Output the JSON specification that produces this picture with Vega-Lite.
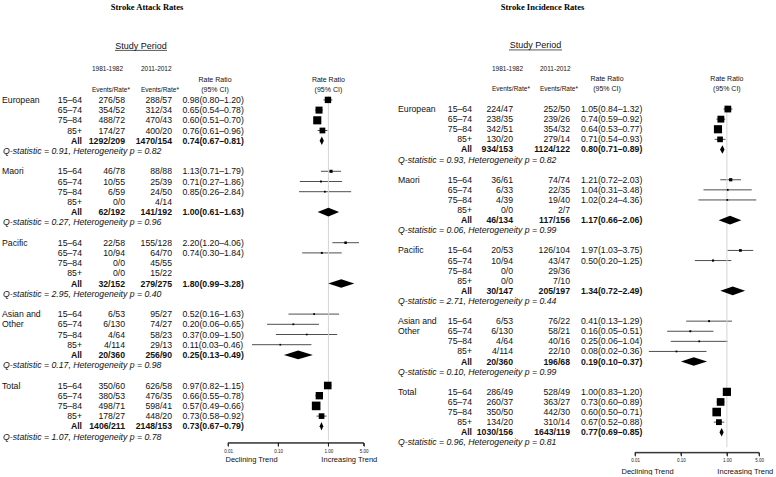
{
  "$schema": "https://vega.github.io/schema/vega-lite/v6.json",
  "padding": {"left": 0, "top": 3, "right": 0, "bottom": 0},
  "background": "white",
  "config": {"view": {"stroke": null}, "font": "Liberation Sans", "text": {"color": "#111"}},
  "spacing": 0,
  "resolve": {"scale": {"size": "independent", "shape": "independent"}},
  "datasets": {
    "attack": [
      {"id":"E1","grp":"European","age":"15–64","p1":"276/58","p2":"288/57","rr":"0.98(0.80–1.20)","est":0.98,"lo":0.80,"hi":1.20,"w":6.1},
      {"id":"E2","age":"65–74","p1":"354/52","p2":"312/34","rr":"0.65(0.54–0.78)","est":0.65,"lo":0.54,"hi":0.78,"w":7.4},
      {"id":"E3","age":"75–84","p1":"488/72","p2":"470/43","rr":"0.60(0.51–0.70)","est":0.60,"lo":0.51,"hi":0.70,"w":10.0},
      {"id":"E4","age":"85+","p1":"174/27","p2":"400/20","rr":"0.76(0.61–0.96)","est":0.76,"lo":0.61,"hi":0.96,"w":4.9},
      {"id":"EA","age":"All","p1":"1292/209","p2":"1470/154","rr":"0.74(0.67–0.81)","est":0.74,"lo":0.67,"hi":0.81},
      {"id":"EQ","q":"Q-statistic = 0.91, Heterogeneity p = 0.82"},
      {"id":"M1","grp":"Maori","age":"15–64","p1":"46/78","p2":"88/88","rr":"1.13(0.71–1.79)","est":1.13,"lo":0.71,"hi":1.79,"w":1.17},
      {"id":"M2","age":"65–74","p1":"10/55","p2":"25/39","rr":"0.71(0.27–1.86)","est":0.71,"lo":0.27,"hi":1.86,"w":0.27},
      {"id":"M3","age":"75–84","p1":"6/59","p2":"24/50","rr":"0.85(0.26–2.84)","est":0.85,"lo":0.26,"hi":2.84,"w":0.18},
      {"id":"M4","age":"85+","p1":"0/0","p2":"4/14"},
      {"id":"MA","age":"All","p1":"62/192","p2":"141/192","rr":"1.00(0.61–1.63)","est":1.00,"lo":0.61,"hi":1.63},
      {"id":"MQ","q":"Q-statistic = 0.27, Heterogeneity p = 0.96"},
      {"id":"P1","grp":"Pacific","age":"15–64","p1":"22/58","p2":"155/128","rr":"2.20(1.20–4.06)","est":2.20,"lo":1.20,"hi":4.06,"w":0.67},
      {"id":"P2","age":"65–74","p1":"10/94","p2":"64/70","rr":"0.74(0.30–1.84)","est":0.74,"lo":0.30,"hi":1.84,"w":0.30},
      {"id":"P3","age":"75–84","p1":"0/0","p2":"45/55"},
      {"id":"P4","age":"85+","p1":"0/0","p2":"15/22"},
      {"id":"PA","age":"All","p1":"32/152","p2":"279/275","rr":"1.80(0.99–3.28)","est":1.80,"lo":0.99,"hi":3.28},
      {"id":"PQ","q":"Q-statistic = 2.95, Heterogeneity p = 0.40"},
      {"id":"A1","grp":"Asian and","age":"15–64","p1":"6/53","p2":"95/27","rr":"0.52(0.16–1.63)","est":0.52,"lo":0.16,"hi":1.63,"w":0.19},
      {"id":"A2","grp":"Other","age":"65–74","p1":"6/130","p2":"74/27","rr":"0.20(0.06–0.65)","est":0.20,"lo":0.06,"hi":0.65,"w":0.18},
      {"id":"A3","age":"75–84","p1":"4/64","p2":"58/23","rr":"0.37(0.09–1.50)","est":0.37,"lo":0.09,"hi":1.50,"w":0.13},
      {"id":"A4","age":"85+","p1":"4/114","p2":"29/13","rr":"0.11(0.03–0.46)","est":0.11,"lo":0.03,"hi":0.46,"w":0.13},
      {"id":"AA","age":"All","p1":"20/360","p2":"256/90","rr":"0.25(0.13–0.49)","est":0.25,"lo":0.13,"hi":0.49},
      {"id":"AQ","q":"Q-statistic = 0.17, Heterogeneity p = 0.98"},
      {"id":"T1","grp":"Total","age":"15–64","p1":"350/60","p2":"626/58","rr":"0.97(0.82–1.15)","est":0.97,"lo":0.82,"hi":1.15,"w":8.75},
      {"id":"T2","age":"65–74","p1":"380/53","p2":"476/35","rr":"0.66(0.55–0.78)","est":0.66,"lo":0.55,"hi":0.78,"w":8.2},
      {"id":"T3","age":"75–84","p1":"498/71","p2":"598/41","rr":"0.57(0.49–0.66)","est":0.57,"lo":0.49,"hi":0.66,"w":11.3},
      {"id":"T4","age":"85+","p1":"178/27","p2":"448/20","rr":"0.73(0.58–0.92)","est":0.73,"lo":0.58,"hi":0.92,"w":4.7},
      {"id":"TA","age":"All","p1":"1406/211","p2":"2148/153","rr":"0.73(0.67–0.79)","est":0.73,"lo":0.67,"hi":0.79},
      {"id":"TQ","q":"Q-statistic = 1.07, Heterogeneity p = 0.78"}
    ],
    "incidence": [
      {"id":"E1","grp":"European","age":"15–64","p1":"224/47","p2":"252/50","rr":"1.05(0.84–1.32)","est":1.05,"lo":0.84,"hi":1.32,"w":4.9},
      {"id":"E2","age":"65–74","p1":"238/35","p2":"239/26","rr":"0.74(0.59–0.92)","est":0.74,"lo":0.59,"hi":0.92,"w":5.07},
      {"id":"E3","age":"75–84","p1":"342/51","p2":"354/32","rr":"0.64(0.53–0.77)","est":0.64,"lo":0.53,"hi":0.77,"w":7.2},
      {"id":"E4","age":"85+","p1":"130/20","p2":"279/14","rr":"0.71(0.54–0.93)","est":0.71,"lo":0.54,"hi":0.93,"w":3.4},
      {"id":"EA","age":"All","p1":"934/153","p2":"1124/122","rr":"0.80(0.71–0.89)","est":0.80,"lo":0.71,"hi":0.89},
      {"id":"EQ","q":"Q-statistic  = 0.93, Heterogeneity p = 0.82"},
      {"id":"M1","grp":"Maori","age":"15–64","p1":"36/61","p2":"74/74","rr":"1.21(0.72–2.03)","est":1.21,"lo":0.72,"hi":2.03,"w":0.93},
      {"id":"M2","age":"65–74","p1":"6/33","p2":"22/35","rr":"1.04(0.31–3.48)","est":1.04,"lo":0.31,"hi":3.48,"w":0.17},
      {"id":"M3","age":"75–84","p1":"4/39","p2":"19/40","rr":"1.02(0.24–4.36)","est":1.02,"lo":0.24,"hi":4.36,"w":0.12},
      {"id":"M4","age":"85+","p1":"0/0","p2":"2/7"},
      {"id":"MA","age":"All","p1":"46/134","p2":"117/156","rr":"1.17(0.66–2.06)","est":1.17,"lo":0.66,"hi":2.06},
      {"id":"MQ","q":"Q-statistic = 0.06, Heterogeneity p = 0.99"},
      {"id":"P1","grp":"Pacific","age":"15–64","p1":"20/53","p2":"126/104","rr":"1.97(1.03–3.75)","est":1.97,"lo":1.03,"hi":3.75,"w":0.60},
      {"id":"P2","age":"65–74","p1":"10/94","p2":"43/47","rr":"0.50(0.20–1.25)","est":0.50,"lo":0.20,"hi":1.25,"w":0.30},
      {"id":"P3","age":"75–84","p1":"0/0","p2":"29/36"},
      {"id":"P4","age":"85+","p1":"0/0","p2":"7/10"},
      {"id":"PA","age":"All","p1":"30/147","p2":"205/197","rr":"1.34(0.72–2.49)","est":1.34,"lo":0.72,"hi":2.49},
      {"id":"PQ","q":"Q-statistic = 2.71, Heterogeneity p = 0.44"},
      {"id":"A1","grp":"Asian and","age":"15–64","p1":"6/53","p2":"76/22","rr":"0.41(0.13–1.29)","est":0.41,"lo":0.13,"hi":1.29,"w":0.19},
      {"id":"A2","grp":"Other","age":"65–74","p1":"6/130","p2":"58/21","rr":"0.16(0.05–0.51)","est":0.16,"lo":0.05,"hi":0.51,"w":0.19},
      {"id":"A3","age":"75–84","p1":"4/64","p2":"40/16","rr":"0.25(0.06–1.04)","est":0.25,"lo":0.06,"hi":1.04,"w":0.12},
      {"id":"A4","age":"85+","p1":"4/114","p2":"22/10","rr":"0.08(0.02–0.36)","est":0.08,"lo":0.02,"hi":0.36,"w":0.12},
      {"id":"AA","age":"All","p1":"20/360","p2":"196/68","rr":"0.19(0.10–0.37)","est":0.19,"lo":0.10,"hi":0.37},
      {"id":"AQ","q":"Q-statistic = 0.10, Heterogeneity p = 0.99"},
      {"id":"T1","grp":"Total","age":"15–64","p1":"286/49","p2":"528/49","rr":"1.00(0.83–1.20)","est":1.00,"lo":0.83,"hi":1.20,"w":7.3},
      {"id":"T2","age":"65–74","p1":"260/37","p2":"363/27","rr":"0.73(0.60–0.89)","est":0.73,"lo":0.60,"hi":0.89,"w":6.4},
      {"id":"T3","age":"75–84","p1":"350/50","p2":"442/30","rr":"0.60(0.50–0.71)","est":0.60,"lo":0.50,"hi":0.71,"w":8.1},
      {"id":"T4","age":"85+","p1":"134/20","p2":"310/14","rr":"0.67(0.52–0.88)","est":0.67,"lo":0.52,"hi":0.88,"w":3.6},
      {"id":"TA","age":"All","p1":"1030/156","p2":"1643/119","rr":"0.77(0.69–0.85)","est":0.77,"lo":0.69,"hi":0.85},
      {"id":"TQ","q":"Q-statistic = 0.96, Heterogeneity p = 0.81"}
    ]
  },
  "hconcat": [
    {
      "width": 388,
      "height": {"step": 10.2},
      "data": {"name": "attack"},
      "encoding": {"y": {"field": "id", "type": "nominal", "axis": null,
        "scale": {"type": "point", "padding": 0.5, "domain": ["tt","x1","x2","x3","sp","x4","h1","h2","h3","E1","E2","E3","E4","EA","EQ","s1","M1","M2","M3","M4","MA","MQ","s2","P1","P2","P3","P4","PA","PQ","s3","A1","A2","A3","A4","AA","AQ","s4","T1","T2","T3","T4","TA","TQ"]}}},
      "resolve": {"scale": {"x": "independent"}, "axis": {"x": "independent"}},
      "layer": [
        {"layer": [
          {"transform": [{"filter": "isValid(datum.lo) && datum.age !== 'All'"}],
           "mark": {"type": "rule", "color": "#222", "strokeWidth": 0.8},
           "encoding": {"x": {"field": "lo", "type": "quantitative", "scale": {"type": "log", "domain": [0.01, 5], "range": [228, 363.5], "nice": false},
               "axis": {"values": [0.01, 0.1, 1, 5], "format": ".2f", "labelFontSize": 4.5, "labelFlush": false, "labelOverlap": false, "labelPadding": 2, "tickSize": 3.5, "tickWidth": 0.8, "domainWidth": 0.8, "domainColor": "#111", "tickColor": "#111", "labelColor": "#222", "grid": false, "offset": 1, "orient": "bottom",
                 "title": "Declining Trend\u00a0\u00a0\u00a0\u00a0\u00a0\u00a0\u00a0\u00a0\u00a0\u00a0\u00a0\u00a0\u00a0\u00a0\u00a0\u00a0\u00a0\u00a0\u00a0\u00a0\u00a0Increasing Trend",
                 "titleFontSize": 7.5, "titleFontWeight": "normal", "titleColor": "#111", "titlePadding": 3, "titleX": 225, "titleAlign": "left", "titleAnchor": "start"}},
             "x2": {"field": "hi"}}},
          {"data": {"values": [{}]},
           "mark": {"type": "rule", "color": "#111", "strokeWidth": 0.8, "yOffset": 6.3},
           "encoding": {"x": {"datum": 0.01, "type": "quantitative", "scale": {"type": "log", "domain": [0.01, 5], "range": [228, 363.5], "nice": false}}, "x2": {"datum": 5}, "y": {"datum": "TQ"}}},
          {"data": {"values": [{"v": 0.01}, {"v": 0.1}, {"v": 1}, {"v": 5}]},
           "mark": {"type": "rule", "color": "#111", "strokeWidth": 0.8, "yOffset": 6.3, "y2Offset": 9.6},
           "encoding": {"x": {"field": "v", "type": "quantitative", "scale": {"type": "log", "domain": [0.01, 5], "range": [228, 363.5], "nice": false}}, "y": {"datum": "TQ"}, "y2": {"datum": "TQ"}}},
          {"data": {"values": [{}]},
           "mark": {"type": "rule", "color": "#d4d4d4", "strokeWidth": 1, "yOffset": 6, "y2Offset": 4},
           "encoding": {
             "x": {"datum": 1, "type": "quantitative", "scale": {"type": "log", "domain": [0.01, 5], "range": [228, 363.5], "nice": false}},
             "y": {"datum": "h3"}, "y2": {"datum": "TQ"}}},
          {"transform": [{"filter": "isValid(datum.lo) && datum.age !== 'All'"}],
           "mark": {"type": "point", "shape": "square", "filled": true, "opacity": 1, "color": "#000"},
           "encoding": {"x": {"field": "est", "type": "quantitative", "scale": {"type": "log", "domain": [0.01, 5], "range": [228, 363.5], "nice": false}},
             "size": {"field": "w", "type": "quantitative", "scale": {"type": "linear", "domain": [0, 11.3], "range": [2, 74]}, "legend": null}}},
          {"transform": [{"filter": "datum.age === 'All'"}],
           "mark": {"type": "point", "filled": true, "opacity": 1, "color": "#000", "size": 4},
           "encoding": {"x": {"field": "est", "type": "quantitative", "scale": {"type": "log", "domain": [0.01, 5], "range": [228, 363.5], "nice": false}},
             "shape": {"field": "id", "type": "nominal", "legend": null, "scale": {"domain": ["EA","MA","PA","AA","TA"], "range": ["M-2.2,0L0,-4.3L2,0L0,4.3Z", "M-10.8,0L0,-4.3L10.7,0L0,4.3Z", "M-13,0L0,-4.3L13.1,0L0,4.3Z", "M-14.3,0L0,-4.3L14.7,0L0,4.3Z", "M-1.9,0L0,-4.3L1.7,0L0,4.3Z"]}}}},
          {"data": {"values": [{"id": "h2", "t": "Rate Ratio"}, {"id": "h3", "t": "(95% CI)"}]},
           "mark": {"type": "text", "fontSize": 7, "align": "center"},
           "encoding": {"x": {"datum": 1, "type": "quantitative", "scale": {"type": "log", "domain": [0.01, 5], "range": [228, 363.5], "nice": false}}, "text": {"field": "t"}}}
        ]},
        {"layer": [
          {"data": {"values": [{"t": "Stroke Attack Rates"}]},
           "mark": {"type": "text", "font": "Liberation Serif", "fontWeight": "bold", "fontSize": 8.5, "align": "center", "color": "#000", "yOffset": -1},
           "encoding": {"x": {"datum": 147, "type": "quantitative", "scale": {"domain": [0, 388], "nice": false, "zero": false}, "axis": null}, "y": {"datum": "tt"}, "text": {"field": "t"}}},
          {"data": {"values": [{"t": "Study Period"}]},
           "mark": {"type": "text", "fontSize": 9, "align": "center", "yOffset": -3},
           "encoding": {"x": {"datum": 141, "type": "quantitative", "axis": null}, "y": {"datum": "sp"}, "text": {"field": "t"}}},
          {"data": {"values": [{}]},
           "mark": {"type": "rule", "strokeWidth": 0.7, "color": "#111", "yOffset": 1.5},
           "encoding": {"x": {"datum": 115, "type": "quantitative", "axis": null}, "x2": {"datum": 167}, "y": {"datum": "sp"}}},
          {"data": {"values": [{"id": "h1", "t": "1981-1982"}, {"id": "h3", "t": "Events/Rate*"}]},
           "mark": {"type": "text", "fontSize": 6.5, "align": "left"},
           "encoding": {"x": {"datum": 92, "type": "quantitative", "axis": null}, "text": {"field": "t"}}},
          {"data": {"values": [{"id": "h1", "t": "2011-2012"}, {"id": "h3", "t": "Events/Rate*"}]},
           "mark": {"type": "text", "fontSize": 6.5, "align": "left"},
           "encoding": {"x": {"datum": 141, "type": "quantitative", "axis": null}, "text": {"field": "t"}}},
          {"data": {"values": [{"id": "h2", "t": "Rate Ratio"}, {"id": "h3", "t": "(95% CI)"}]},
           "mark": {"type": "text", "fontSize": 7, "align": "center"},
           "encoding": {"x": {"datum": 215, "type": "quantitative", "axis": null}, "text": {"field": "t"}}},
          {"transform": [{"filter": "isValid(datum.grp)"}],
           "mark": {"type": "text", "fontSize": 8.7, "align": "left"},
           "encoding": {"x": {"datum": 2, "type": "quantitative", "axis": null}, "text": {"field": "grp"}}},
          {"transform": [{"filter": "isValid(datum.age) && datum.age !== 'All'"}],
           "mark": {"type": "text", "fontSize": 8.7, "align": "right"},
           "encoding": {"x": {"datum": 82, "type": "quantitative", "axis": null}, "text": {"field": "age"}}},
          {"transform": [{"filter": "isValid(datum.age) && datum.age !== 'All'"}],
           "mark": {"type": "text", "fontSize": 8.7, "align": "right"},
           "encoding": {"x": {"datum": 125, "type": "quantitative", "axis": null}, "text": {"field": "p1"}}},
          {"transform": [{"filter": "isValid(datum.age) && datum.age !== 'All'"}],
           "mark": {"type": "text", "fontSize": 8.7, "align": "right"},
           "encoding": {"x": {"datum": 172, "type": "quantitative", "axis": null}, "text": {"field": "p2"}}},
          {"transform": [{"filter": "isValid(datum.rr) && datum.age !== 'All'"}],
           "mark": {"type": "text", "fontSize": 8.7, "align": "left"},
           "encoding": {"x": {"datum": 182.5, "type": "quantitative", "axis": null}, "text": {"field": "rr"}}},
          {"transform": [{"filter": "datum.age === 'All'"}],
           "mark": {"type": "text", "fontSize": 8.7, "fontWeight": "bold", "align": "right"},
           "encoding": {"x": {"datum": 82, "type": "quantitative", "axis": null}, "text": {"field": "age"}}},
          {"transform": [{"filter": "datum.age === 'All'"}],
           "mark": {"type": "text", "fontSize": 8.7, "fontWeight": "bold", "align": "right"},
           "encoding": {"x": {"datum": 125, "type": "quantitative", "axis": null}, "text": {"field": "p1"}}},
          {"transform": [{"filter": "datum.age === 'All'"}],
           "mark": {"type": "text", "fontSize": 8.7, "fontWeight": "bold", "align": "right"},
           "encoding": {"x": {"datum": 172, "type": "quantitative", "axis": null}, "text": {"field": "p2"}}},
          {"transform": [{"filter": "datum.age === 'All'"}],
           "mark": {"type": "text", "fontSize": 8.7, "fontWeight": "bold", "align": "left"},
           "encoding": {"x": {"datum": 182.5, "type": "quantitative", "axis": null}, "text": {"field": "rr"}}},
          {"transform": [{"filter": "isValid(datum.q)"}],
           "mark": {"type": "text", "fontSize": 8.7, "fontStyle": "italic", "align": "left"},
           "encoding": {"x": {"datum": 3, "type": "quantitative", "axis": null}, "text": {"field": "q"}}}
        ]}
      ]
    },
    {
      "width": 388,
      "height": {"step": 10.1},
      "data": {"name": "incidence"},
      "encoding": {"y": {"field": "id", "type": "nominal", "axis": null,
        "scale": {"type": "point", "padding": 0.5, "domain": ["tt","x1","x2","x3","sp","x4","h1","h2","h3","x5","E1","E2","E3","E4","EA","EQ","s1","M1","M2","M3","M4","MA","MQ","s2","P1","P2","P3","P4","PA","PQ","s3","A1","A2","A3","A4","AA","AQ","s4","T1","T2","T3","T4","TA","TQ"]}}},
      "resolve": {"scale": {"x": "independent"}, "axis": {"x": "independent"}},
      "layer": [
        {"layer": [
          {"transform": [{"filter": "isValid(datum.lo) && datum.age !== 'All'"}],
           "mark": {"type": "rule", "color": "#222", "strokeWidth": 0.8},
           "encoding": {"x": {"field": "lo", "type": "quantitative", "scale": {"type": "log", "domain": [0.01, 5], "range": [247, 371], "nice": false},
               "axis": {"values": [0.01, 0.1, 1, 5], "format": ".2f", "labelFontSize": 4.5, "labelFlush": false, "labelOverlap": false, "labelPadding": 2, "tickSize": 3.5, "tickWidth": 0.8, "domainWidth": 0.8, "domainColor": "#111", "tickColor": "#111", "labelColor": "#222", "grid": false, "offset": 5, "orient": "bottom",
                 "title": "Declining Trend\u00a0\u00a0\u00a0\u00a0\u00a0\u00a0\u00a0\u00a0\u00a0\u00a0\u00a0\u00a0\u00a0\u00a0\u00a0\u00a0\u00a0\u00a0\u00a0\u00a0\u00a0Increasing Trend",
                 "titleFontSize": 7.5, "titleFontWeight": "normal", "titleColor": "#111", "titlePadding": 5, "titleX": 233, "titleAlign": "left", "titleAnchor": "start"}},
             "x2": {"field": "hi"}}},
          {"data": {"values": [{}]},
           "mark": {"type": "rule", "color": "#111", "strokeWidth": 0.8, "yOffset": 10},
           "encoding": {"x": {"datum": 0.01, "type": "quantitative", "scale": {"type": "log", "domain": [0.01, 5], "range": [247, 371], "nice": false}}, "x2": {"datum": 5}, "y": {"datum": "TQ"}}},
          {"data": {"values": [{"v": 0.01}, {"v": 0.1}, {"v": 1}, {"v": 5}]},
           "mark": {"type": "rule", "color": "#111", "strokeWidth": 0.8, "yOffset": 10, "y2Offset": 13.3},
           "encoding": {"x": {"field": "v", "type": "quantitative", "scale": {"type": "log", "domain": [0.01, 5], "range": [247, 371], "nice": false}}, "y": {"datum": "TQ"}, "y2": {"datum": "TQ"}}},
          {"data": {"values": [{}]},
           "mark": {"type": "rule", "color": "#d4d4d4", "strokeWidth": 1, "yOffset": 6, "y2Offset": 5},
           "encoding": {
             "x": {"datum": 1, "type": "quantitative", "scale": {"type": "log", "domain": [0.01, 5], "range": [247, 371], "nice": false}},
             "y": {"datum": "x5"}, "y2": {"datum": "TQ"}}},
          {"transform": [{"filter": "isValid(datum.lo) && datum.age !== 'All'"}],
           "mark": {"type": "point", "shape": "square", "filled": true, "opacity": 1, "color": "#000"},
           "encoding": {"x": {"field": "est", "type": "quantitative", "scale": {"type": "log", "domain": [0.01, 5], "range": [247, 371], "nice": false}},
             "size": {"field": "w", "type": "quantitative", "scale": {"type": "linear", "domain": [0, 8.1], "range": [2, 74]}, "legend": null}}},
          {"transform": [{"filter": "datum.age === 'All'"}],
           "mark": {"type": "point", "filled": true, "opacity": 1, "color": "#000", "size": 4},
           "encoding": {"x": {"field": "est", "type": "quantitative", "scale": {"type": "log", "domain": [0.01, 5], "range": [247, 371], "nice": false}},
             "shape": {"field": "id", "type": "nominal", "legend": null, "scale": {"domain": ["EA","MA","PA","AA","TA"], "range": ["M-2.4,0L0,-4.3L2.1,0L0,4.3Z", "M-11.4,0L0,-4.3L11.3,0L0,4.3Z", "M-12.4,0L0,-4.3L12.4,0L0,4.3Z", "M-12.8,0L0,-4.3L13.3,0L0,4.3Z", "M-2.2,0L0,-4.3L2,0L0,4.3Z"]}}}},
          {"data": {"values": [{"id": "h2", "t": "Rate Ratio"}, {"id": "h3", "t": "(95% CI)"}]},
           "mark": {"type": "text", "fontSize": 7, "align": "center"},
           "encoding": {"x": {"datum": 1, "type": "quantitative", "scale": {"type": "log", "domain": [0.01, 5], "range": [247, 371], "nice": false}}, "text": {"field": "t"}}}
        ]},
        {"layer": [
          {"data": {"values": [{"t": "Stroke Incidence Rates"}]},
           "mark": {"type": "text", "font": "Liberation Serif", "fontWeight": "bold", "fontSize": 8.5, "align": "center", "color": "#000", "yOffset": -1},
           "encoding": {"x": {"datum": 154.5, "type": "quantitative", "scale": {"domain": [0, 388], "nice": false, "zero": false}, "axis": null}, "y": {"datum": "tt"}, "text": {"field": "t"}}},
          {"data": {"values": [{"t": "Study Period"}]},
           "mark": {"type": "text", "fontSize": 9, "align": "center", "yOffset": -3},
           "encoding": {"x": {"datum": 147.5, "type": "quantitative", "axis": null}, "y": {"datum": "sp"}, "text": {"field": "t"}}},
          {"data": {"values": [{}]},
           "mark": {"type": "rule", "strokeWidth": 0.7, "color": "#111", "yOffset": 1.5},
           "encoding": {"x": {"datum": 121, "type": "quantitative", "axis": null}, "x2": {"datum": 174}, "y": {"datum": "sp"}}},
          {"data": {"values": [{"id": "h1", "t": "1981-1982"}, {"id": "h3", "t": "Events/Rate*"}]},
           "mark": {"type": "text", "fontSize": 6.5, "align": "left"},
           "encoding": {"x": {"datum": 104, "type": "quantitative", "axis": null}, "text": {"field": "t"}}},
          {"data": {"values": [{"id": "h1", "t": "2011-2012"}, {"id": "h3", "t": "Events/Rate*"}]},
           "mark": {"type": "text", "fontSize": 6.5, "align": "left"},
           "encoding": {"x": {"datum": 152, "type": "quantitative", "axis": null}, "text": {"field": "t"}}},
          {"data": {"values": [{"id": "h2", "t": "Rate Ratio"}, {"id": "h3", "t": "(95% CI)"}]},
           "mark": {"type": "text", "fontSize": 7, "align": "center"},
           "encoding": {"x": {"datum": 219, "type": "quantitative", "axis": null}, "text": {"field": "t"}}},
          {"transform": [{"filter": "isValid(datum.grp)"}],
           "mark": {"type": "text", "fontSize": 8.7, "align": "left"},
           "encoding": {"x": {"datum": 10, "type": "quantitative", "axis": null}, "text": {"field": "grp"}}},
          {"transform": [{"filter": "isValid(datum.age) && datum.age !== 'All'"}],
           "mark": {"type": "text", "fontSize": 8.7, "align": "right"},
           "encoding": {"x": {"datum": 84, "type": "quantitative", "axis": null}, "text": {"field": "age"}}},
          {"transform": [{"filter": "isValid(datum.age) && datum.age !== 'All'"}],
           "mark": {"type": "text", "fontSize": 8.7, "align": "right"},
           "encoding": {"x": {"datum": 125, "type": "quantitative", "axis": null}, "text": {"field": "p1"}}},
          {"transform": [{"filter": "isValid(datum.age) && datum.age !== 'All'"}],
           "mark": {"type": "text", "fontSize": 8.7, "align": "right"},
           "encoding": {"x": {"datum": 182, "type": "quantitative", "axis": null}, "text": {"field": "p2"}}},
          {"transform": [{"filter": "isValid(datum.rr) && datum.age !== 'All'"}],
           "mark": {"type": "text", "fontSize": 8.7, "align": "left"},
           "encoding": {"x": {"datum": 193, "type": "quantitative", "axis": null}, "text": {"field": "rr"}}},
          {"transform": [{"filter": "datum.age === 'All'"}],
           "mark": {"type": "text", "fontSize": 8.7, "fontWeight": "bold", "align": "right"},
           "encoding": {"x": {"datum": 84, "type": "quantitative", "axis": null}, "text": {"field": "age"}}},
          {"transform": [{"filter": "datum.age === 'All'"}],
           "mark": {"type": "text", "fontSize": 8.7, "fontWeight": "bold", "align": "right"},
           "encoding": {"x": {"datum": 125, "type": "quantitative", "axis": null}, "text": {"field": "p1"}}},
          {"transform": [{"filter": "datum.age === 'All'"}],
           "mark": {"type": "text", "fontSize": 8.7, "fontWeight": "bold", "align": "right"},
           "encoding": {"x": {"datum": 182, "type": "quantitative", "axis": null}, "text": {"field": "p2"}}},
          {"transform": [{"filter": "datum.age === 'All'"}],
           "mark": {"type": "text", "fontSize": 8.7, "fontWeight": "bold", "align": "left"},
           "encoding": {"x": {"datum": 193, "type": "quantitative", "axis": null}, "text": {"field": "rr"}}},
          {"transform": [{"filter": "isValid(datum.q)"}],
           "mark": {"type": "text", "fontSize": 8.7, "fontStyle": "italic", "align": "left"},
           "encoding": {"x": {"datum": 10, "type": "quantitative", "axis": null}, "text": {"field": "q"}}}
        ]}
      ]
    }
  ]
}
